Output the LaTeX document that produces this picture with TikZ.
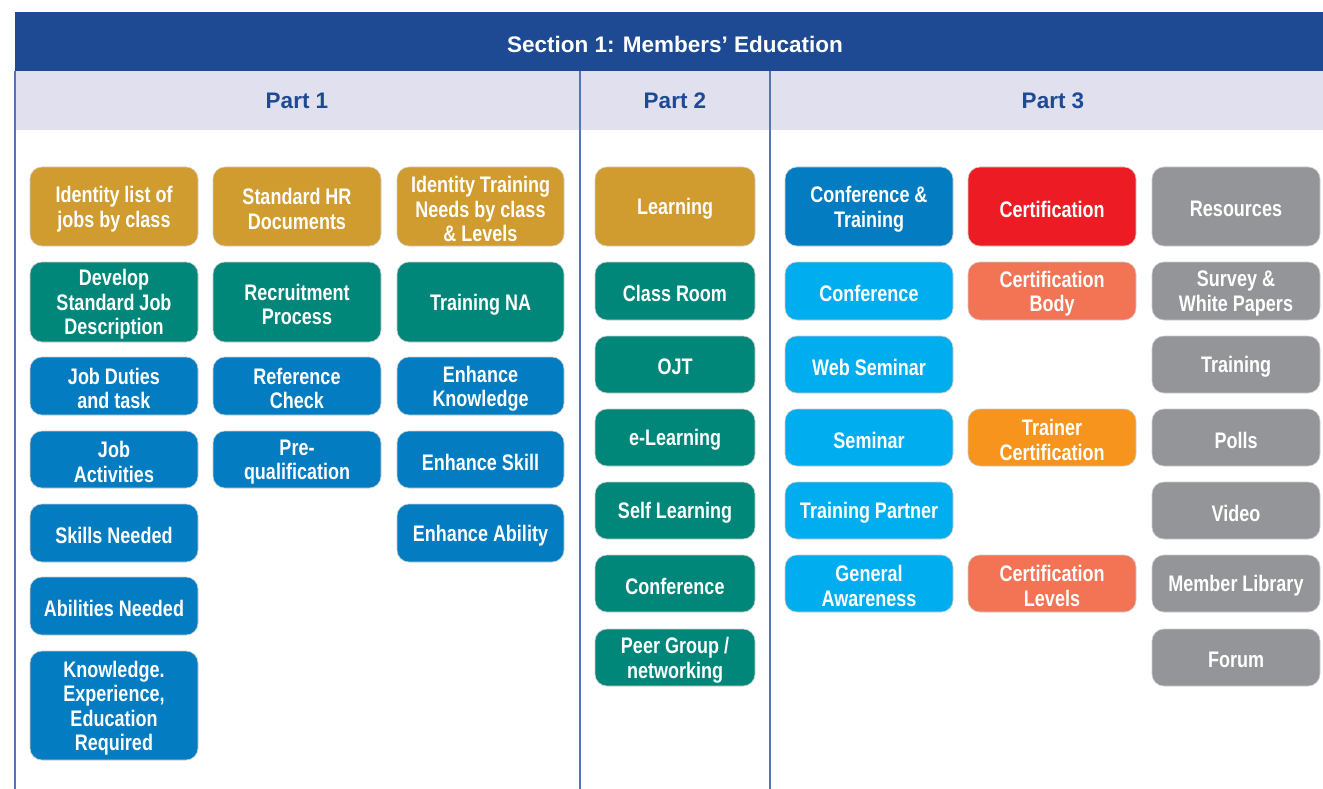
\documentclass[tikz,border=0pt]{standalone}
\usepackage{fontspec}
\newfontfamily\hdrfont{Liberation Sans}
\newfontfamily\condfont[FakeStretch=0.8]{Liberation Sans}
\definecolor{hdrblue}{HTML}{1D4A93}
\definecolor{hdrlight}{HTML}{E0E0EE}
\definecolor{sepline}{HTML}{5573B5}
\definecolor{cgold}{HTML}{D09B2F}
\definecolor{cteal}{HTML}{00877A}
\definecolor{cblue}{HTML}{037CC2}
\definecolor{clblue}{HTML}{00AEEF}
\definecolor{cred}{HTML}{ED1C24}
\definecolor{csalmon}{HTML}{F37355}
\definecolor{corange}{HTML}{F7941D}
\definecolor{cgray}{HTML}{939598}
\tikzset{
  box/.style={rounded corners=12pt, inner sep=0pt,
    draw=white!80!black, line width=0.6pt},
  boxtext/.style={inner sep=0pt, text=white, align=center, yshift=-2.5pt,
    font=\condfont\bfseries\fontsize{22.5}{24.5}\selectfont},
  hdrtext/.style={font=\hdrfont\bfseries\fontsize{22.5}{26}\selectfont},
  sep/.style={draw=sepline, line width=1.4pt}
}
\newcommand\mybox[7]{\node[box,fill=#2,minimum width={(#5-#3)*1pt},minimum height={(#6-#4)*1pt},label={[boxtext]center:#7}] (#1) at ({(#3+#5)/2},{(#4+#6)/2}) {};}
\begin{document}
\begin{tikzpicture}[x=1pt,y=-1pt]
\useasboundingbox (0,0) rectangle (1323,789);
% headers
\fill[hdrblue] (15,12) rectangle (1323,71);
\fill[hdrlight] (15,71) rectangle (1323,130);
\node[hdrtext,text=white] (sec) at (675,44) {Section 1: Members’ Education};
\node[hdrtext,text=hdrblue] (p1) at (297,101) {Part 1};
\node[hdrtext,text=hdrblue] (p2) at (675,101) {Part 2};
\node[hdrtext,text=hdrblue] (p3) at (1053,101) {Part 3};
\coordinate (l0t) at (15,71); \coordinate (l0b) at (15,789);
\coordinate (l1t) at (580,71); \coordinate (l1b) at (580,789);
\coordinate (l2t) at (770,71); \coordinate (l2b) at (770,789);
\draw[sep] (l0t) -- (l0b);
\draw[sep] (l1t) -- (l1b);
\draw[sep] (l2t) -- (l2b);
% Part 1 column 1
\mybox{a1}{cgold}{30}{167}{198}{246}{Identity list of\\jobs by class}
\mybox{a2}{cteal}{30}{262}{198}{342}{Develop\\Standard Job\\Description}
\mybox{a3}{cblue}{30}{357}{198}{415}{Job Duties\\and task}
\mybox{a4}{cblue}{30}{431}{198}{488}{Job\\Activities}
\mybox{a5}{cblue}{30}{504}{198}{562}{Skills Needed}
\mybox{a6}{cblue}{30}{577}{198}{635}{Abilities Needed}
\mybox{a7}{cblue}{30}{651}{198}{760}{Knowledge.\\Experience,\\Education\\Required}
% Part 1 column 2
\mybox{b1}{cgold}{213}{167}{381}{246}{Standard HR\\Documents}
\mybox{b2}{cteal}{213}{262}{381}{342}{Recruitment\\Process}
\mybox{b3}{cblue}{213}{357}{381}{415}{Reference\\Check}
\mybox{b4}{cblue}{213}{431}{381}{488}{Pre-\\qualification}
% Part 1 column 3
\mybox{c1}{cgold}{397}{167}{564}{246}{Identity Training\\Needs by class\\\& Levels}
\mybox{c2}{cteal}{397}{262}{564}{342}{Training NA}
\mybox{c3}{cblue}{397}{357}{564}{415}{Enhance\\Knowledge}
\mybox{c4}{cblue}{397}{431}{564}{488}{Enhance Skill}
\mybox{c5}{cblue}{397}{504}{564}{562}{Enhance Ability}
% Part 2
\mybox{d1}{cgold}{595}{167}{755}{246}{Learning}
\mybox{d2}{cteal}{595}{262}{755}{320}{Class Room}
\mybox{d3}{cteal}{595}{336}{755}{393}{OJT}
\mybox{d4}{cteal}{595}{409}{755}{466}{e-Learning}
\mybox{d5}{cteal}{595}{482}{755}{539}{Self Learning}
\mybox{d6}{cteal}{595}{555}{755}{612}{Conference}
\mybox{d7}{cteal}{595}{629}{755}{686}{Peer Group /\\networking}
% Part 3 column 1
\mybox{e1}{cblue}{785}{167}{953}{246}{Conference \&\\Training}
\mybox{e2}{clblue}{785}{262}{953}{320}{Conference}
\mybox{e3}{clblue}{785}{336}{953}{393}{Web Seminar}
\mybox{e4}{clblue}{785}{409}{953}{466}{Seminar}
\mybox{e5}{clblue}{785}{482}{953}{539}{Training Partner}
\mybox{e6}{clblue}{785}{555}{953}{612}{General\\Awareness}
% Part 3 column 2
\mybox{f1}{cred}{968}{167}{1136}{246}{Certification}
\mybox{f2}{csalmon}{968}{262}{1136}{320}{Certification\\Body}
\mybox{f3}{corange}{968}{409}{1136}{466}{Trainer\\Certification}
\mybox{f4}{csalmon}{968}{555}{1136}{612}{Certification\\Levels}
% Part 3 column 3
\mybox{g1}{cgray}{1152}{167}{1320}{246}{Resources}
\mybox{g2}{cgray}{1152}{262}{1320}{320}{Survey \&\\White Papers}
\mybox{g3}{cgray}{1152}{336}{1320}{393}{Training}
\mybox{g4}{cgray}{1152}{409}{1320}{466}{Polls}
\mybox{g5}{cgray}{1152}{482}{1320}{539}{Video}
\mybox{g6}{cgray}{1152}{555}{1320}{612}{Member Library}
\mybox{g7}{cgray}{1152}{629}{1320}{686}{Forum}
\end{tikzpicture}
\end{document}
